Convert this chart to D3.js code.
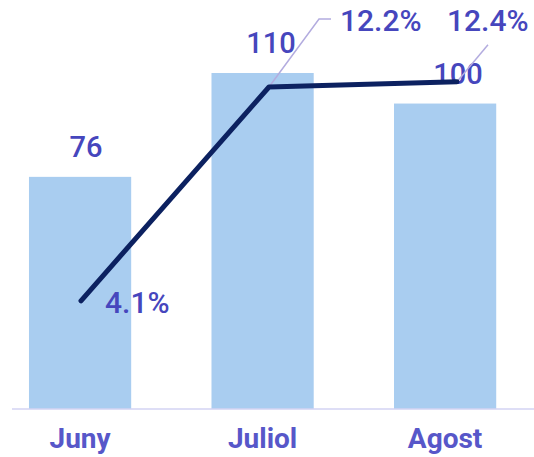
<!DOCTYPE html>
<html>
<head>
<meta charset="utf-8">
<title>Juny - Agost</title>
<script src="https://cdn.jsdelivr.net/npm/d3@7"></script>
<style>
  body { margin: 0; background: #fff; }
  text { font-family: Roboto, "Open Sans", sans-serif; }
</style>
</head>
<body>
<script>
// data
var months = ["Juny", "Juliol", "Agost"];
var visits = [76, 110, 100];
var rates = [4.1, 12.2, 12.4];
var rateLabels = ["4.1%", "12.2%", "12.4%"];

var W = 534, H = 457, base = 409;

var svg = d3.select("body").append("svg")
    .attr("width", W)
    .attr("height", H);

// bars
var x = d3.scaleBand()
    .domain(months)
    .range([12, 534])
    .paddingInner(0.44)
    .paddingOuter(0.15)
    .align(0.31);

var y = d3.scaleLinear()
    .domain([0, 110])
    .range([base, 73]);

// line sits on its own axis (a bit wider than bars)
var x2 = d3.scalePoint()
    .domain(months)
    .range([81, 457]);

var y2 = d3.scaleLinear()
    .domain([0, 12.2])
    .range([base, 87]);

svg.selectAll("rect.bar")
    .data(months)
    .enter().append("rect")
    .attr("class", "bar")
    .attr("x", function (d) { return x(d); })
    .attr("y", function (d, i) { return y(visits[i]); })
    .attr("width", x.bandwidth())
    .attr("height", function (d, i) { return base - y(visits[i]); })
    .style("fill", "#a9cdf0");

// baseline
svg.append("line")
    .attr("x1", x.range()[0]).attr("x2", x.range()[1])
    .attr("y1", base).attr("y2", base)
    .style("stroke", "#d3d3f3")
    .style("stroke-width", 1.6);

// category labels
svg.selectAll("text.cat")
    .data(months)
    .enter().append("text")
    .attr("class", "cat")
    .attr("x", function (d) { return x(d) + x.bandwidth() / 2; })
    .attr("y", 448)
    .attr("text-anchor", "middle")
    .style("font-size", "28px")
    .style("font-weight", "bold")
    .style("fill", "#5757c9")
    .text(function (d) { return d; });

// bar value labels
svg.selectAll("text.val")
    .data(months)
    .enter().append("text")
    .attr("class", "val")
    .attr("x", function (d, i) { return x2(d) + [5, 2, 1][i]; })
    .attr("y", function (d, i) { return y(visits[i]) - 20; })
    .attr("text-anchor", "middle")
    .style("font-size", "29px")
    .style("font-weight", "500")
    .style("fill", "#4646bd")
    .text(function (d, i) { return visits[i]; });

// leader lines for the two crowded % labels
var leaders = [null, [[50, -68], [62, -68]], [[31, -37]]];
leaders.forEach(function (l, i) {
  if (!l) return;
  var px = x2(months[i]), py = y2(rates[i]);
  var pts = [[px, py]].concat(l.map(function (p) { return [px + p[0], py + p[1]]; }));
  svg.append("path")
      .attr("d", d3.line()(pts))
      .style("fill", "none")
      .style("stroke", "#b3acdf")
      .style("stroke-width", 1.5);
});

// rate line
svg.append("path")
    .datum(months)
    .attr("d", d3.line()
        .x(function (d) { return x2(d); })
        .y(function (d, i) { return y2(rates[i]); }))
    .style("fill", "none")
    .style("stroke", "#0c2160")
    .style("stroke-width", 5)
    .style("stroke-linecap", "round")
    .style("stroke-linejoin", "round");

// rate labels
var rateOff = [[24, 12], [71, -56], [-10, -51]];
svg.selectAll("text.rate")
    .data(months)
    .enter().append("text")
    .attr("class", "rate")
    .attr("x", function (d, i) { return x2(d) + rateOff[i][0]; })
    .attr("y", function (d, i) { return y2(rates[i]) + rateOff[i][1]; })
    .style("font-size", "30px")
    .style("font-weight", "500")
    .style("fill", "#4646bd")
    .text(function (d, i) { return rateLabels[i]; });
</script>
</body>
</html>
